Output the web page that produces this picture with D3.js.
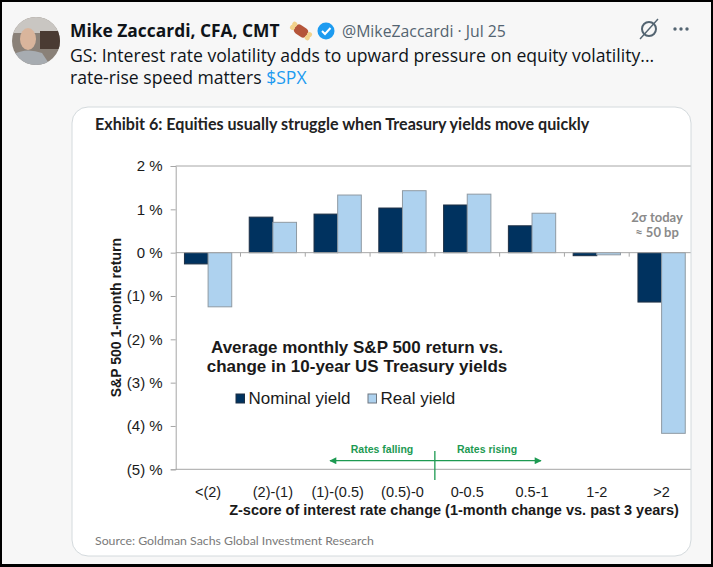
<!DOCTYPE html>
<html>
<head>
<meta charset="utf-8">
<script src="https://cdn.jsdelivr.net/npm/d3@7"></script>
<style>
  html, body { margin: 0; padding: 0; background: #000; }
  svg { display: block; }
</style>
</head>
<body>
<div id="chart"></div>
<script>
const categories = ['<(2)', '(2)-(1)', '(1)-(0.5)', '(0.5)-0', '0-0.5', '0.5-1', '1-2', '>2'];
const seriesNames = ['Nominal yield', 'Real yield'];
const nominalReturn = [-0.26, 0.82, 0.89, 1.03, 1.10, 0.62, -0.07, -1.14];
const realReturn = [-1.25, 0.70, 1.33, 1.43, 1.35, 0.91, -0.05, -4.17];
const yTicks = [2, 1, 0, -1, -2, -3, -4, -5];
const yTickLabels = ['2 %', '1 %', '0 %', '(1) %', '(2) %', '(3) %', '(4) %', '(5) %'];

const W = 713, H = 567;
const colors = { nominal: '#00325f', real: '#aed2ef', realStroke: '#8f9aa3', green: '#1d9a52' };
const arial = '"Liberation Sans", Arial, sans-serif';
const tw = '"Open Sans", "Noto Sans", sans-serif';
const gsFont = 'Lato, "Open Sans", sans-serif';

const svg = d3.select('#chart').append('svg')
  .attr('width', W)
  .attr('height', H);
const defs = svg.append('defs');

// page frame + background
svg.append('rect').attr('width', W).attr('height', H).attr('fill', '#000');
svg.append('rect').attr('x', 2).attr('y', 2).attr('width', W - 4).attr('height', H - 5).attr('fill', '#f7f7f7');

// ---- tweet header ----
defs.append('clipPath').attr('id', 'av-clip').append('circle').attr('r', 24);
const avatar = svg.append('g').attr('transform', 'translate(36,41)')
  .append('g').attr('clip-path', 'url(#av-clip)');
avatar.append('rect').attr('x', -24).attr('y', -24).attr('width', 48).attr('height', 48).attr('fill', '#8a8178');
avatar.append('rect').attr('x', -24).attr('y', -24).attr('width', 48).attr('height', 16).attr('fill', '#c9c6c2');
avatar.append('rect').attr('x', 4).attr('y', -10).attr('width', 20).attr('height', 18).attr('fill', '#4a3b33');
avatar.append('ellipse').attr('cx', -8).attr('cy', -2).attr('rx', 8).attr('ry', 11).attr('fill', '#d9b59c');
avatar.append('path').attr('d', 'M-24,14 Q-10,6 6,12 L14,24 L-24,24 Z').attr('fill', '#a7acb1');

svg.append('text')
  .attr('x', 70).attr('y', 37)
  .attr('font-family', tw).attr('font-weight', 700).attr('font-size', 17.4)
  .attr('fill', '#0f1419')
  .text('Mike Zaccardi, CFA, CMT');

// meat emoji stand-in
const meat = svg.append('g').attr('transform', 'translate(301,31) rotate(35)');
meat.append('rect').attr('x', -7).attr('y', -5).attr('width', 14).attr('height', 10).attr('rx', 4).attr('fill', '#b5553a');
meat.append('circle').attr('cx', 9).attr('cy', -2).attr('r', 2.5).attr('fill', '#f2d28b');
meat.append('circle').attr('cx', 9).attr('cy', 2).attr('r', 2.5).attr('fill', '#f2d28b');
meat.append('circle').attr('cx', -9).attr('cy', -2).attr('r', 2.5).attr('fill', '#f2d28b');
meat.append('circle').attr('cx', -9).attr('cy', 2).attr('r', 2.5).attr('fill', '#f2d28b');

// verified badge
const badge = svg.append('g').attr('transform', 'translate(326,31)');
badge.append('circle').attr('r', 8.5).attr('fill', '#1d9bf0');
badge.append('path').attr('d', 'M-4,0 L-1,3 L4.5,-3').attr('fill', 'none').attr('stroke', '#fff').attr('stroke-width', 2);

svg.append('text')
  .attr('x', 342).attr('y', 37)
  .attr('font-family', tw).attr('font-size', 15.8)
  .attr('fill', '#536471')
  .text('@MikeZaccardi · Jul 25');

// right icons
const grok = svg.append('g').attr('transform', 'translate(649,29)');
grok.append('circle').attr('r', 7).attr('fill', 'none').attr('stroke', '#536471').attr('stroke-width', 2);
grok.append('line').attr('x1', -9).attr('y1', 10).attr('x2', 9).attr('y2', -10).attr('stroke', '#536471').attr('stroke-width', 1.4);
[-6, 0, 6].forEach((dx) => {
  svg.append('circle').attr('cx', 681 + dx).attr('cy', 29).attr('r', 1.7).attr('fill', '#536471');
});

const body = svg.append('text')
  .attr('font-family', tw).attr('font-size', 17.6)
  .attr('fill', '#0f1419');
body.append('tspan').attr('x', 70).attr('y', 62)
  .text('GS: Interest rate volatility adds to upward pressure on equity volatility...');
const line2 = body.append('tspan').attr('x', 70).attr('y', 84);
line2.append('tspan').text('rate-rise speed matters ');
line2.append('tspan').attr('fill', '#1d9bf0').text('$SPX');

// ---- image card ----
defs.append('clipPath').attr('id', 'card-clip')
  .append('rect').attr('x', 72).attr('y', 107).attr('width', 619).attr('height', 449).attr('rx', 16);
svg.append('rect')
  .attr('x', 72).attr('y', 107).attr('width', 619).attr('height', 449).attr('rx', 16)
  .attr('fill', '#fff');

const card = svg.append('g').attr('clip-path', 'url(#card-clip)');

card.append('text')
  .attr('x', 95).attr('y', 130)
  .attr('font-family', gsFont).attr('font-weight', 700).attr('font-size', 16.1)
  .attr('fill', '#222')
  .text('Exhibit 6: Equities usually struggle when Treasury yields move quickly');

// scales
const plot = { left: 175.7, right: 694, top: 166, bottom: 469.3 };
const x = d3.scaleBand().domain(categories).range([plot.left, plot.right]);
const xs = d3.scaleBand().domain(seriesNames).range([0, x.bandwidth()]).paddingOuter(0.37);
const y = d3.scaleLinear().domain([-5, 2]).range([plot.bottom, plot.top]);

const rows = categories.map((c, i) => ({ cat: c, values: [nominalReturn[i], realReturn[i]] }));

// plot frame
card.append('line')
  .attr('x1', plot.left).attr('x2', plot.right).attr('y1', plot.top).attr('y2', plot.top)
  .attr('stroke', '#a6a6a6');
card.append('line')
  .attr('x1', plot.left).attr('x2', plot.right).attr('y1', plot.bottom).attr('y2', plot.bottom)
  .attr('stroke', '#a6a6a6');

// bars
const groups = card.append('g').selectAll('g')
  .data(rows)
  .join('g')
  .attr('transform', d => `translate(${x(d.cat)},0)`);
groups.selectAll('rect')
  .data(d => d.values.map((v, j) => ({ key: seriesNames[j], v })))
  .join('rect')
  .attr('x', d => xs(d.key))
  .attr('width', xs.bandwidth())
  .attr('y', d => y(Math.max(0, d.v)))
  .attr('height', d => Math.abs(y(d.v) - y(0)))
  .attr('fill', d => (d.key === seriesNames[0] ? colors.nominal : colors.real))
  .attr('stroke', d => (d.key === seriesNames[0] ? '#1d2f44' : colors.realStroke))
  .attr('stroke-width', 1);

// zero line with category ticks
card.append('line')
  .attr('x1', plot.left).attr('x2', plot.right).attr('y1', y(0)).attr('y2', y(0))
  .attr('stroke', '#a6a6a6');
card.append('g').selectAll('line')
  .data(categories.slice(1))
  .join('line')
  .attr('x1', d => x(d)).attr('x2', d => x(d))
  .attr('y1', y(0)).attr('y2', y(0) + 4)
  .attr('stroke', '#a6a6a6');

// y axis
const yAxis = card.append('g')
  .attr('transform', `translate(${plot.left},0)`)
  .call(d3.axisLeft(y).tickValues(yTicks).tickSize(5).tickPadding(8)
    .tickFormat((d, i) => yTickLabels[i]));
yAxis.select('.domain').attr('stroke', '#a6a6a6');
yAxis.selectAll('.tick line').attr('stroke', '#a6a6a6');
yAxis.selectAll('.tick text')
  .attr('font-family', arial).attr('font-size', 15).attr('fill', '#1a1a1a');

card.append('text')
  .attr('transform', `translate(121,${(plot.top + plot.bottom) / 2}) rotate(-90)`)
  .attr('text-anchor', 'middle')
  .attr('font-family', arial).attr('font-weight', 700).attr('font-size', 14)
  .attr('fill', '#1a1a1a')
  .text('S&P 500 1-month return');

// x axis labels
const xAxis = card.append('g')
  .attr('transform', `translate(0,${plot.bottom})`)
  .call(d3.axisBottom(x).tickSize(0).tickPadding(17));
xAxis.select('.domain').remove();
xAxis.selectAll('.tick text')
  .attr('font-family', arial).attr('font-size', 14.5).attr('fill', '#1a1a1a');

card.append('text')
  .attr('x', 454).attr('y', 515)
  .attr('text-anchor', 'middle')
  .attr('font-family', arial).attr('font-weight', 700).attr('font-size', 14.5)
  .attr('fill', '#1a1a1a')
  .text('Z-score of interest rate change (1-month change vs. past 3 years)');

// inset title
const inset = card.append('text')
  .attr('text-anchor', 'middle')
  .attr('font-family', arial).attr('font-weight', 700).attr('font-size', 17)
  .attr('fill', '#1a1a1a');
inset.append('tspan').attr('x', 357).attr('y', 353).text('Average monthly S&P 500 return vs.');
inset.append('tspan').attr('x', 357).attr('y', 372).text('change in 10-year US Treasury yields');

// legend
const legend = card.append('g');
const legendX = [236, 368];
seriesNames.forEach((name, i) => {
  const g = legend.append('g').attr('transform', `translate(${legendX[i]},394)`);
  g.append('rect').attr('width', 8.5).attr('height', 9)
    .attr('fill', i === 0 ? colors.nominal : colors.real)
    .attr('stroke', i === 0 ? '#1d2f44' : '#6e7780');
  g.append('text').attr('x', 12.5).attr('y', 9.5)
    .attr('font-family', arial).attr('font-size', 17).attr('fill', '#1a1a1a')
    .text(name);
});

// rates falling / rising arrows
const mid = x(categories[4]);
const arrowY = 460.7;
defs.append('marker').attr('id', 'arrow').attr('viewBox', '0 0 10 10')
  .attr('refX', 9).attr('refY', 5).attr('markerWidth', 9).attr('markerHeight', 7)
  .attr('markerUnits', 'userSpaceOnUse').attr('orient', 'auto-start-reverse')
  .append('path').attr('d', 'M0,0 L10,5 L0,10 Z').attr('fill', colors.green);
card.append('line')
  .attr('x1', mid).attr('x2', 330).attr('y1', arrowY).attr('y2', arrowY)
  .attr('stroke', colors.green).attr('stroke-width', 1.3).attr('marker-end', 'url(#arrow)');
card.append('line')
  .attr('x1', mid).attr('x2', 541).attr('y1', arrowY).attr('y2', arrowY)
  .attr('stroke', colors.green).attr('stroke-width', 1.3).attr('marker-end', 'url(#arrow)');
card.append('line')
  .attr('x1', mid).attr('x2', mid).attr('y1', 451).attr('y2', 480)
  .attr('stroke', colors.green).attr('stroke-width', 1.3);
card.append('text').attr('x', 382).attr('y', 453).attr('text-anchor', 'middle')
  .attr('font-family', arial).attr('font-weight', 700).attr('font-size', 10.5).attr('fill', colors.green)
  .text('Rates falling');
card.append('text').attr('x', 487).attr('y', 453).attr('text-anchor', 'middle')
  .attr('font-family', arial).attr('font-weight', 700).attr('font-size', 10.5).attr('fill', colors.green)
  .text('Rates rising');

// 2 sigma note
const note = card.append('text')
  .attr('text-anchor', 'middle')
  .attr('font-family', gsFont).attr('font-weight', 700).attr('font-size', 13)
  .attr('fill', '#8a8a8a');
note.append('tspan').attr('x', 657).attr('y', 222).text('2σ today');
note.append('tspan').attr('x', 657).attr('y', 237).text('≈ 50 bp');

// source
card.append('text')
  .attr('x', 95).attr('y', 545)
  .attr('font-family', gsFont).attr('font-size', 12.3)
  .attr('fill', '#7a7a7a')
  .text('Source: Goldman Sachs Global Investment Research');

svg.append('rect')
  .attr('x', 72).attr('y', 107).attr('width', 619).attr('height', 449).attr('rx', 16)
  .attr('fill', 'none').attr('stroke', '#d4dadd');
</script>
</body>
</html>
